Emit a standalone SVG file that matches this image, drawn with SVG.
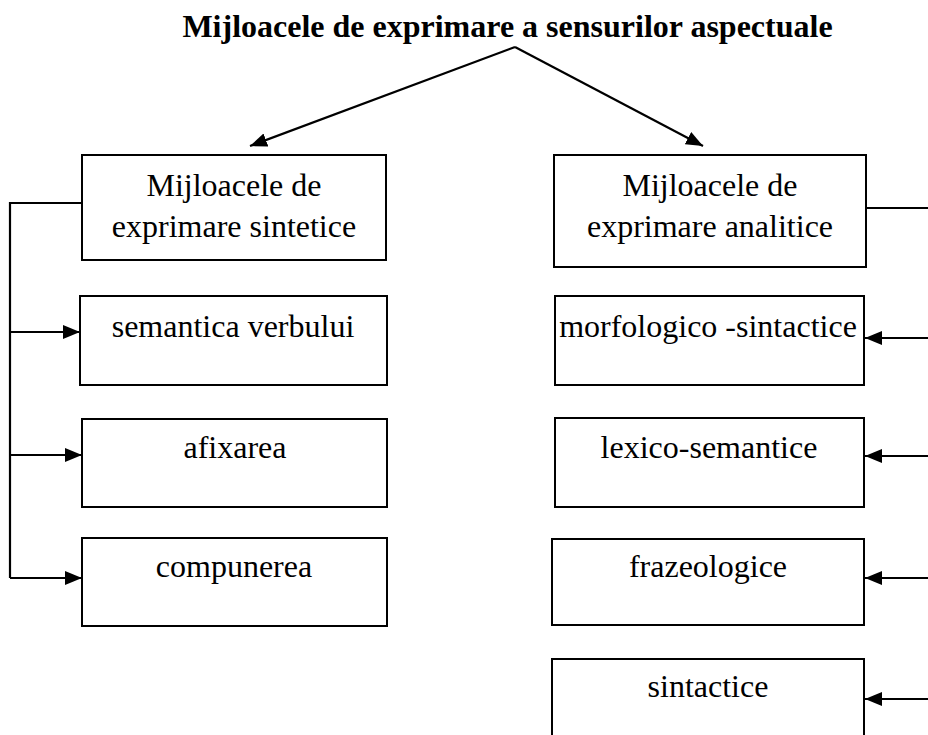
<svg xmlns="http://www.w3.org/2000/svg" width="928" height="735" viewBox="0 0 928 735">
<style>
  .box { fill: #fff; stroke: #000; stroke-width: 2; }
  .lbl { font-family: "Liberation Serif", "Times New Roman", serif; font-size: 32px; fill: #000; text-anchor: middle; }
  .title { font-family: "Liberation Serif", "Times New Roman", serif; font-size: 32px; font-weight: bold; fill: #000; text-anchor: middle; }
  .con { fill: none; stroke: #000; stroke-width: 2.2; }
</style>
<defs>
  <marker id="ah" markerUnits="userSpaceOnUse" markerWidth="18" markerHeight="16" viewBox="0 0 18 16" refX="17" refY="8" orient="auto">
    <path d="M0,1 L17,8 L0,15 Z" fill="#000"/>
  </marker>
</defs>
<rect x="0" y="0" width="928" height="735" fill="#fff"/>
<g id="title">
  <text class="title" x="507.5" y="37">Mijloacele de exprimare a sensurilor aspectuale</text>
</g>
<g id="connectors">
  <line class="con" x1="515" y1="47" x2="250" y2="146" marker-end="url(#ah)"/>
  <line class="con" x1="515" y1="47" x2="703" y2="146" marker-end="url(#ah)"/>
  <polyline class="con" points="82,203 10,203 10,578"/>
  <line class="con" x1="10" y1="332" x2="80" y2="332" marker-end="url(#ah)"/>
  <line class="con" x1="10" y1="455" x2="82" y2="455" marker-end="url(#ah)"/>
  <line class="con" x1="10" y1="578" x2="82" y2="578" marker-end="url(#ah)"/>
  <line class="con" x1="866" y1="208" x2="928" y2="208"/>
  <line class="con" x1="928" y1="338" x2="865" y2="338" marker-end="url(#ah)"/>
  <line class="con" x1="928" y1="456" x2="865" y2="456" marker-end="url(#ah)"/>
  <line class="con" x1="928" y1="578" x2="865" y2="578" marker-end="url(#ah)"/>
  <line class="con" x1="928" y1="699" x2="865" y2="699" marker-end="url(#ah)"/>
</g>
<g id="sintetice">
  <rect class="box" x="82" y="155" width="304" height="105"/>
  <text class="lbl" x="234" y="196">Mijloacele de</text>
  <text class="lbl" x="234" y="237">exprimare sintetice</text>
</g>
<g id="analitice">
  <rect class="box" x="554" y="155" width="312" height="112"/>
  <text class="lbl" x="710" y="196">Mijloacele de</text>
  <text class="lbl" x="710" y="237">exprimare analitice</text>
</g>
<g id="semantica">
  <rect class="box" x="80" y="296" width="307" height="89"/>
  <text class="lbl" x="233" y="337">semantica verbului</text>
</g>
<g id="afixarea">
  <rect class="box" x="82" y="419" width="305" height="88"/>
  <text class="lbl" x="235" y="458">afixarea</text>
</g>
<g id="compunerea">
  <rect class="box" x="82" y="538" width="305" height="88"/>
  <text class="lbl" x="234" y="577">compunerea</text>
</g>
<g id="morfologico">
  <rect class="box" x="555" y="296" width="309" height="89"/>
  <text class="lbl" x="708" y="337">morfologico -sintactice</text>
</g>
<g id="lexico">
  <rect class="box" x="555" y="418" width="309" height="89"/>
  <text class="lbl" x="709" y="458">lexico-semantice</text>
</g>
<g id="frazeologice">
  <rect class="box" x="552" y="539" width="312" height="86"/>
  <text class="lbl" x="708" y="577">frazeologice</text>
</g>
<g id="sintactice">
  <path class="box" d="M552,735 V659 H864 V735"/>
  <text class="lbl" x="708" y="697">sintactice</text>
</g>
</svg>
